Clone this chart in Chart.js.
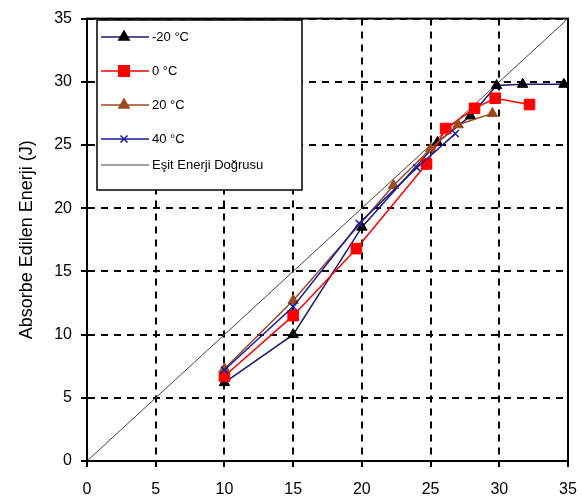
<!DOCTYPE html>
<html lang="tr">
<head>
<meta charset="UTF-8">
<title>Absorbe Edilen Enerji</title>
<script src="https://cdn.jsdelivr.net/npm/chart.js"></script>
<style>
    body { margin: 0; background: #fff; }
    #wrap { width: 582px; height: 501px; position: relative; }
</style>
</head>
<body>
<div id="wrap"><canvas id="chart"></canvas></div>
<script>
// values (x, y pairs in J)
const seriesNames = ['-20 °C', '0 °C', '20 °C', '40 °C', 'Eşit Enerji Doğrusu'];
const xTicks = [0, 5, 10, 15, 20, 25, 30, 35];
const yTicks = [0, 5, 10, 15, 20, 25, 30, 35];

const minus20X = [10, 15, 20, 25.5, 27.9, 29.8, 31.7, 34.7];
const minus20Y = [6.2, 10.0, 18.5, 25.2, 27.3, 29.7, 29.8, 29.8];

const zeroX = [10, 15, 19.6, 24.7, 26.1, 28.2, 29.7, 32.2];
const zeroY = [6.7, 11.5, 16.8, 23.5, 26.3, 27.9, 28.7, 28.2];

const plus20X = [10, 15, 22.3, 25, 27, 29.5];
const plus20Y = [7.3, 12.7, 21.8, 24.7, 26.6, 27.5];

const plus40X = [10, 15, 19.8, 24, 26.8];
const plus40Y = [7.2, 12.2, 18.8, 23.2, 25.9];

const equalX = [0, 35];
const equalY = [0, 35];

const pairs = (xs, ys) => xs.map((x, i) => ({ x: x, y: ys[i] }));

const styles = [
    { line: '#1a1a6e', fill: '#000000', shape: 'triangle', r: 6 },
    { line: '#ff0000', fill: '#ff0000', shape: 'rect', r: 7.5 },
    { line: '#9c4a1e', fill: '#9c4a1e', shape: 'triangle', r: 6 },
    { line: '#1a1a9e', fill: '#1a1a9e', shape: 'crossRot', r: 5 },
    { line: '#444444', fill: '#444444', shape: false, r: 0 }
];

const allData = [
    pairs(minus20X, minus20Y),
    pairs(zeroX, zeroY),
    pairs(plus20X, plus20Y),
    pairs(plus40X, plus40Y),
    pairs(equalX, equalY)
];

const datasets = allData.map((d, i) => ({
    label: seriesNames[i],
    data: d,
    showLine: true,
    borderColor: styles[i].line,
    backgroundColor: styles[i].fill,
    pointBorderColor: styles[i].fill,
    pointBackgroundColor: styles[i].fill,
    pointStyle: styles[i].shape,
    pointRadius: styles[i].r,
    pointBorderWidth: i === 3 ? 1.5 : 1,
    borderWidth: i === 4 ? 1 : 1.5,
    tension: 0,
    order: i === 4 ? 10 : 4 - i
}));

const fontFamily = '"Liberation Sans", Arial, sans-serif';

// frame round the plot and the legend box inside it
const framePlugin = {
    id: 'frame',
    afterDraw(chart) {
        const ctx = chart.ctx;
        const a = chart.chartArea;
        ctx.save();
        ctx.setLineDash([]);
        ctx.strokeStyle = '#000';
        ctx.lineWidth = 2;
        ctx.strokeRect(a.left, a.top, a.right - a.left, a.bottom - a.top);

        // legend
        const bx = 97, by = 20, bw = 205, bh = 170;
        ctx.fillStyle = '#fff';
        ctx.fillRect(bx, by, bw, bh);
        ctx.lineWidth = 1.5;
        ctx.strokeRect(bx, by, bw, bh);
        ctx.font = '13px ' + fontFamily;
        ctx.textBaseline = 'middle';
        const rowsY = [37, 71, 105, 139, 165];
        rowsY.forEach((ry, i) => {
            const s = styles[i];
            ctx.strokeStyle = s.line;
            ctx.lineWidth = i === 4 ? 1 : 1.5;
            ctx.beginPath();
            ctx.moveTo(101, ry);
            ctx.lineTo(149, ry);
            ctx.stroke();
            if (s.shape) {
                ctx.fillStyle = s.fill;
                ctx.strokeStyle = s.fill;
                ctx.lineWidth = 1.5;
                Chart.helpers.drawPoint(ctx, { pointStyle: s.shape, radius: s.r, borderWidth: 1.5 }, 124, ry);
            }
            ctx.fillStyle = '#000';
            ctx.fillText(seriesNames[i], 152, ry);
        });
        ctx.restore();
    }
};

const gridOpts = {
    color: '#000',
    lineWidth: 2,
    tickBorderDash: [],
    tickLength: 6,
    tickColor: '#000',
    tickWidth: 2
};

new Chart(document.getElementById('chart'), {
    type: 'scatter',
    data: { datasets: datasets },
    options: {
        responsive: true,
        maintainAspectRatio: false,
        animation: false,
        layout: { padding: { top: 15, right: 14, left: 0, bottom: 0 } },
        plugins: {
            legend: { display: false },
            tooltip: { enabled: false }
        },
        scales: {
            x: {
                type: 'linear',
                min: 0,
                max: 35,
                afterBuildTicks: s => { s.ticks = xTicks.map(v => ({ value: v })); },
                afterFit: s => { s.height = 40; s.paddingLeft = 0; s.paddingRight = 0; },
                grid: gridOpts,
                border: { display: true, color: '#000', width: 2, dash: [7, 6] },
                ticks: {
                    color: '#000',
                    padding: 13,
                    maxRotation: 0,
                    font: { family: fontFamily, size: 16 }
                }
            },
            y: {
                type: 'linear',
                min: 0,
                max: 35,
                afterBuildTicks: s => { s.ticks = yTicks.map(v => ({ value: v })); },
                afterFit: s => { s.width = 87; },
                grid: gridOpts,
                border: { display: true, color: '#000', width: 2, dash: [7, 6] },
                title: {
                    display: true,
                    text: 'Absorbe Edilen Enerji (J)',
                    color: '#000',
                    padding: { top: 16, bottom: 2 },
                    font: { family: fontFamily, size: 18 }
                },
                ticks: {
                    color: '#000',
                    padding: 9,
                    font: { family: fontFamily, size: 16 }
                }
            }
        }
    },
    plugins: [framePlugin]
});
</script>
</body>
</html>
